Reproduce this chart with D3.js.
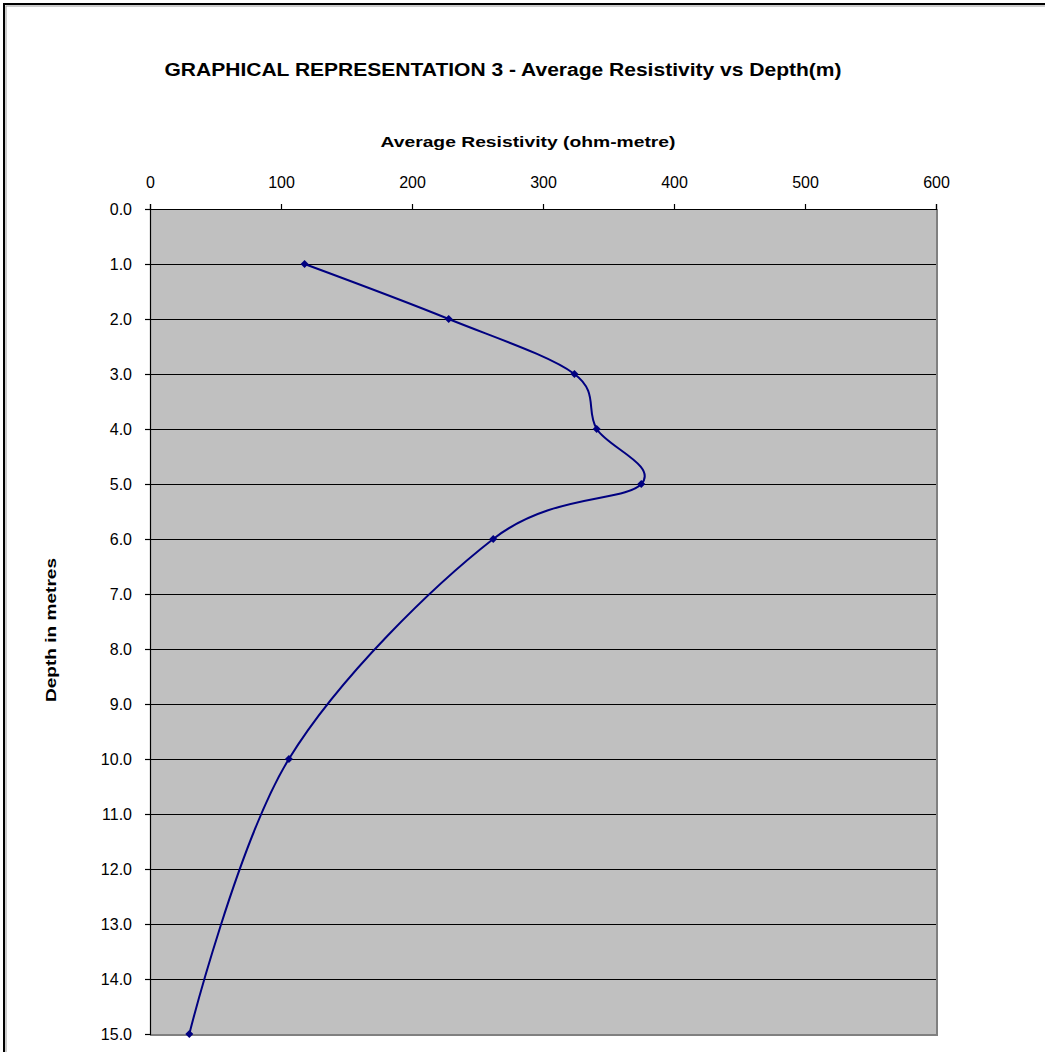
<!DOCTYPE html>
<html>
<head>
<meta charset="utf-8">
<script src="https://cdn.jsdelivr.net/npm/d3@7"></script>
<style>
  body { margin: 0; background: #fff; }
  svg { display: block; }
</style>
</head>
<body>
<div id="chart"></div>
<script>
const width = 1045;
const height = 1052;
const margin = { top: 209, right: 109, bottom: 18, left: 150 };

// data
const depths = [1, 2, 3, 4, 5, 6, 10, 15];
const resistivity = [118, 228, 324, 341, 375, 262, 106, 30];
const xTicks = [0, 100, 200, 300, 400, 500, 600];
const yTicks = d3.range(0, 16, 1);

const plotWidth = width - margin.left - margin.right;
const plotHeight = height - margin.top - margin.bottom;

const svg = d3.select("#chart")
    .append("svg")
    .attr("width", width)
    .attr("height", height);

// chart frame (right and bottom edges run off the page)
svg.append("rect")
    .attr("x", 4)
    .attr("y", 4)
    .attr("width", width + 10)
    .attr("height", height + 10)
    .attr("fill", "#fff")
    .attr("stroke", "#000")
    .attr("stroke-width", 2);
svg.append("rect")
    .attr("x", 6)
    .attr("y", 6)
    .attr("width", width + 10)
    .attr("height", height + 10)
    .attr("fill", "none")
    .attr("stroke", "#999")
    .attr("stroke-width", 1);

const plot = svg.append("g")
    .attr("transform", `translate(${margin.left},${margin.top})`);

const x = d3.scaleLinear().domain([0, 600]).range([0, plotWidth]);
const y = d3.scaleLinear().domain([0, 15]).range([0, plotHeight]);

plot.append("rect")
    .attr("width", plotWidth)
    .attr("height", plotHeight)
    .attr("fill", "#c0c0c0");

// gridlines
plot.append("g")
    .selectAll("line")
    .data(yTicks.slice(1, -1))
    .join("line")
    .attr("x1", 0)
    .attr("x2", plotWidth)
    .attr("y1", d => y(d) + 0.5)
    .attr("y2", d => y(d) + 0.5)
    .attr("stroke", "#000")
    .attr("stroke-width", 1);

// plot border on right and bottom
plot.append("path")
    .attr("d", `M${plotWidth + 1},0V${plotHeight + 1}H0`)
    .attr("fill", "none")
    .attr("stroke", "#808080")
    .attr("stroke-width", 2);

const xAxis = plot.append("g")
    .call(d3.axisTop(x).tickValues(xTicks).tickSize(5).tickPadding(16));
const yAxis = plot.append("g")
    .call(d3.axisLeft(y).tickValues(yTicks).tickFormat(d3.format(".1f")).tickSize(5).tickPadding(13));

[xAxis, yAxis].forEach(a => {
    a.selectAll("path, line").attr("stroke", "#000").attr("stroke-width", 1.2);
    a.selectAll("text")
        .attr("fill", "#000")
        .style("font-family", "'Liberation Sans', Arial, sans-serif")
        .style("font-size", "16px");
});

// data line
const points = depths.map((d, i) => [resistivity[i], d]);

const line = d3.line()
    .x(d => x(d[0]))
    .y(d => y(d[1]))
    .curve(d3.curveCardinal.tension(0));

plot.append("path")
    .datum(points)
    .attr("fill", "none")
    .attr("stroke", "#000080")
    .attr("stroke-width", 2)
    .attr("d", line);

plot.selectAll(".marker")
    .data(points)
    .join("path")
    .attr("class", "marker")
    .attr("transform", d => `translate(${x(d[0])},${y(d[1])}) rotate(45)`)
    .attr("d", d3.symbol().type(d3.symbolSquare).size(32))
    .attr("fill", "#000080");

// titles
svg.append("text")
    .attr("x", 503)
    .attr("y", 76)
    .attr("text-anchor", "middle")
    .attr("textLength", 677)
    .attr("lengthAdjust", "spacingAndGlyphs")
    .style("font-family", "'Liberation Sans', Arial, sans-serif")
    .style("font-size", "18px")
    .style("font-weight", "bold")
    .text("GRAPHICAL REPRESENTATION 3 - Average Resistivity vs Depth(m)");

svg.append("text")
    .attr("x", 528)
    .attr("y", 147)
    .attr("text-anchor", "middle")
    .attr("textLength", 295)
    .attr("lengthAdjust", "spacingAndGlyphs")
    .style("font-family", "'Liberation Sans', Arial, sans-serif")
    .style("font-size", "15px")
    .style("font-weight", "bold")
    .text("Average Resistivity (ohm-metre)");

svg.append("text")
    .attr("transform", "rotate(-90)")
    .attr("x", -630)
    .attr("y", 56)
    .attr("text-anchor", "middle")
    .attr("textLength", 144)
    .attr("lengthAdjust", "spacingAndGlyphs")
    .style("font-family", "'Liberation Sans', Arial, sans-serif")
    .style("font-size", "15px")
    .style("font-weight", "bold")
    .text("Depth in metres");
</script>
</body>
</html>
